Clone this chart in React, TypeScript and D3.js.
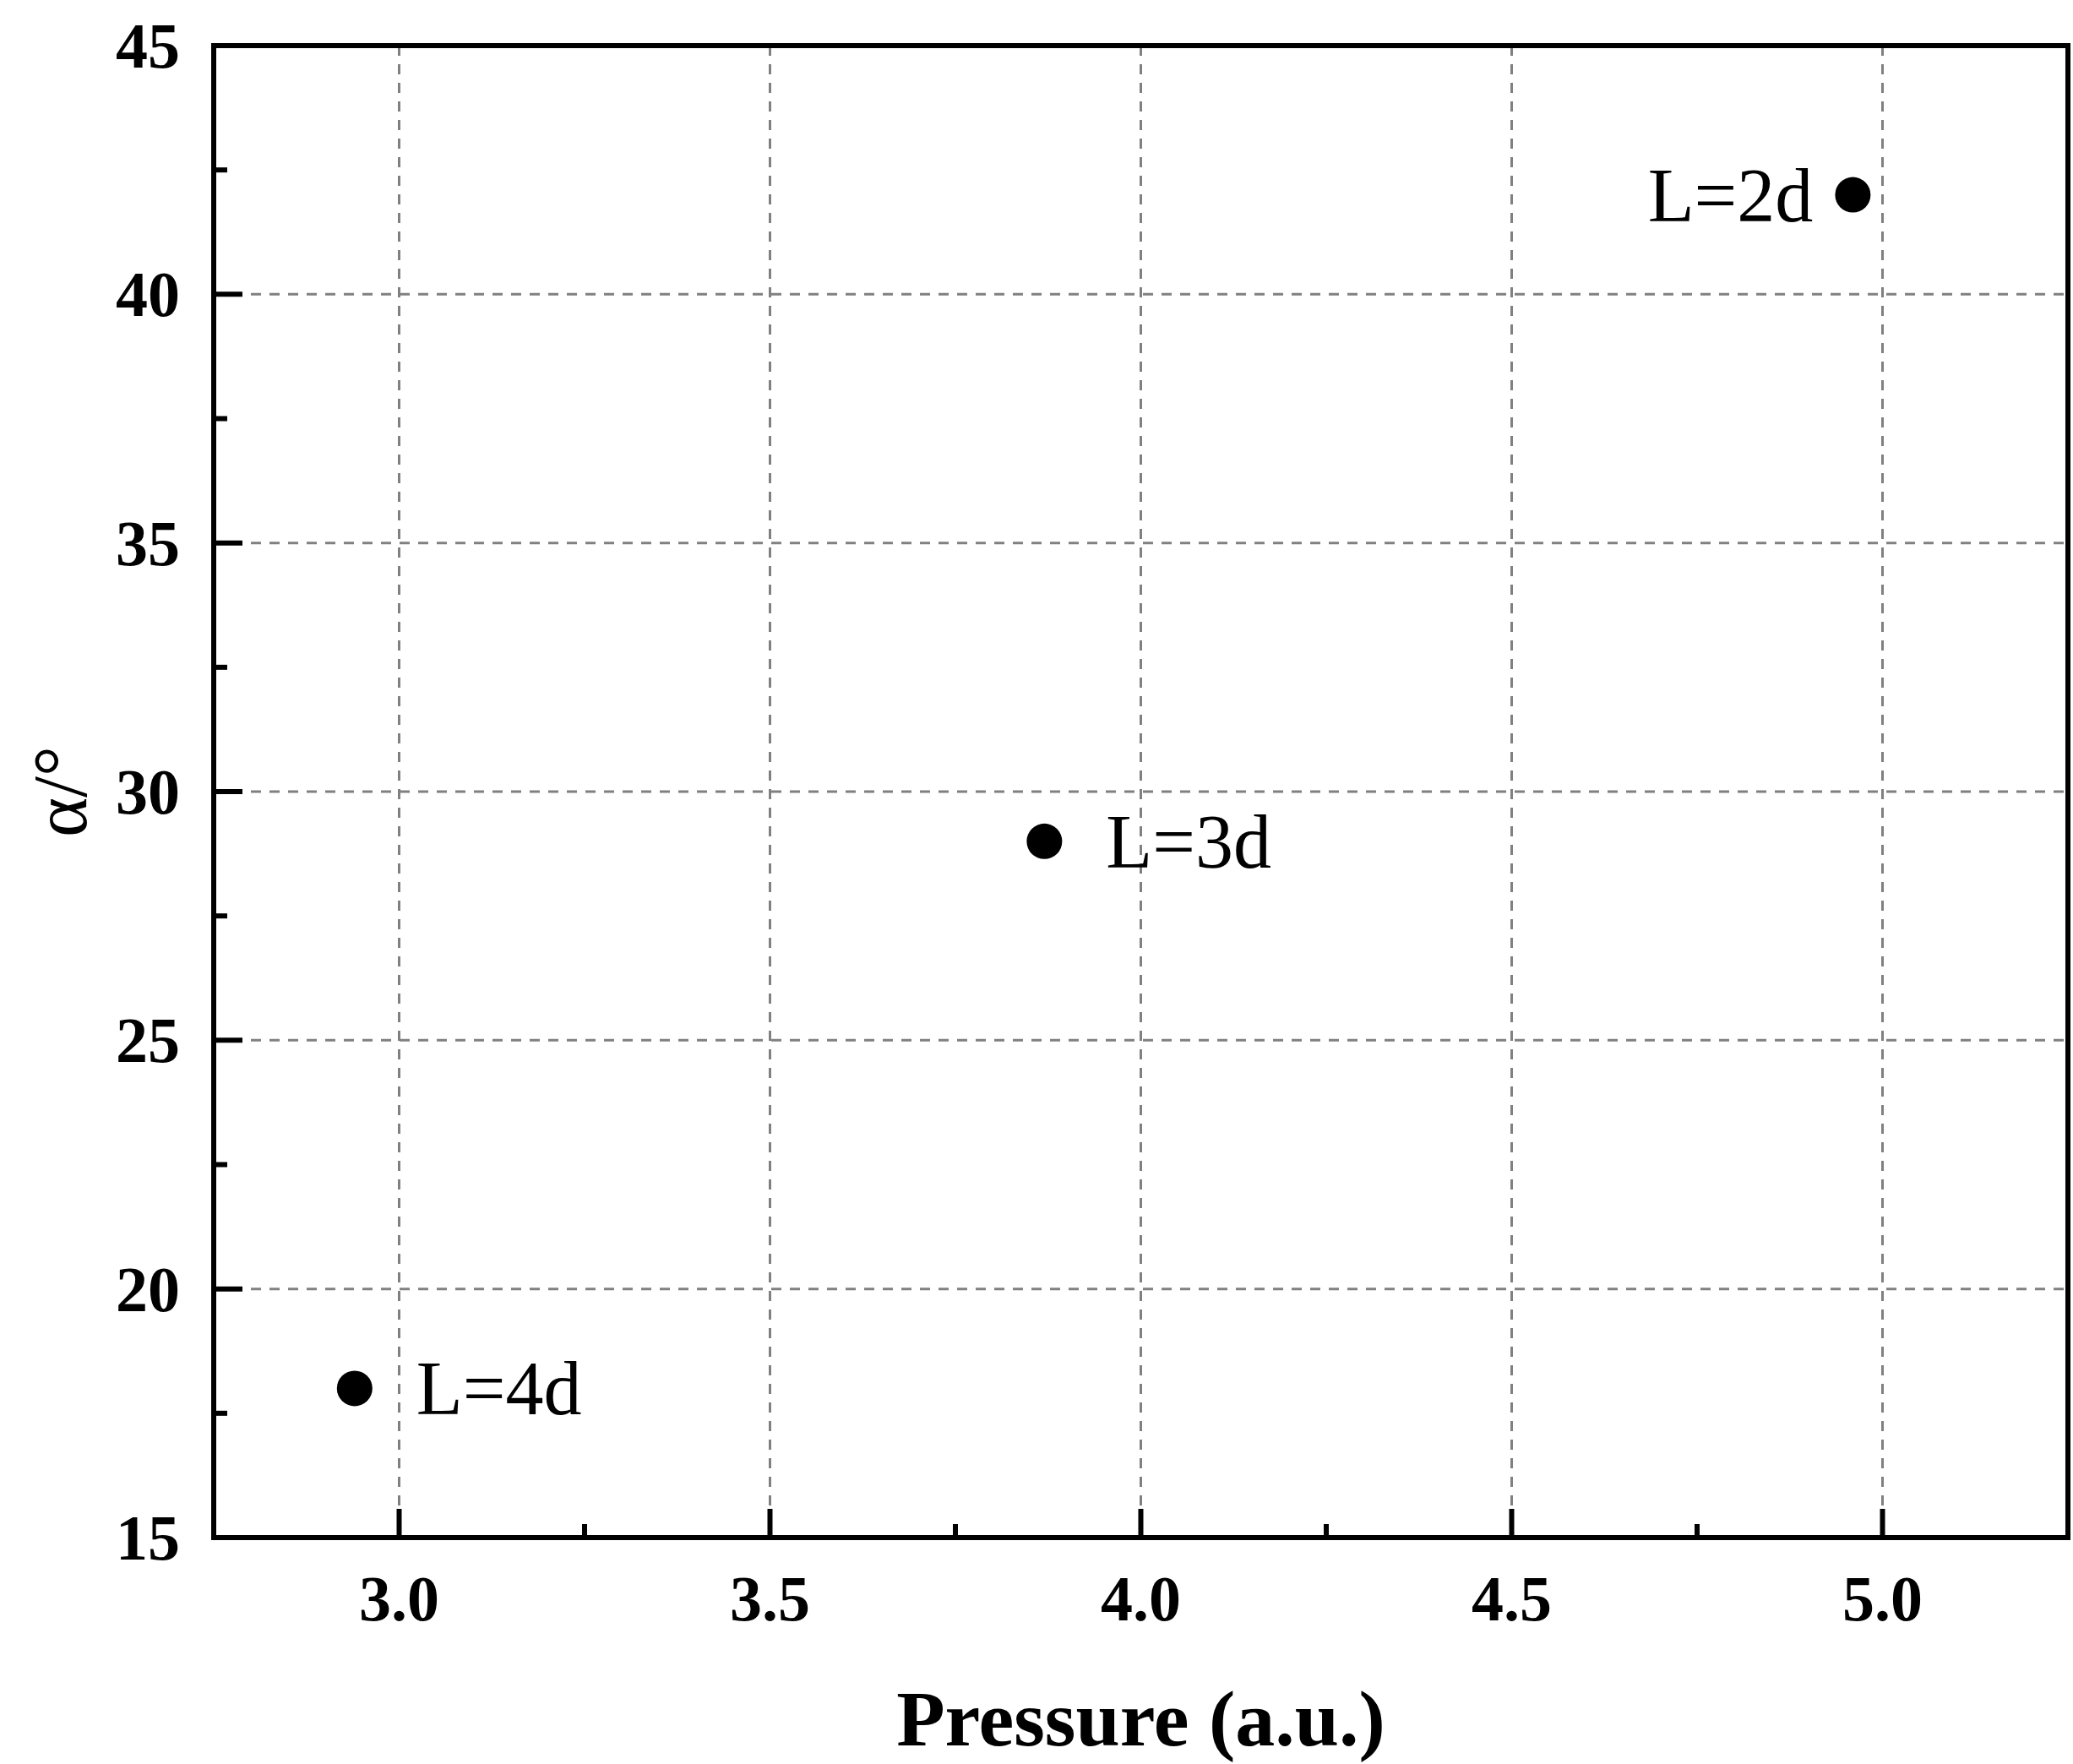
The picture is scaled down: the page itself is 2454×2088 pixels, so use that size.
import React, { useEffect, useRef } from "react";
import * as d3 from "d3";

const labels = ["L=2d", "L=3d", "L=4d"];
const pressure = [4.96, 3.87, 2.94];
const alpha = [42, 29, 18];
const labelSide = ["left", "right", "right"];
const xTicks = [3.0, 3.5, 4.0, 4.5, 5.0];
const xMinor = [3.25, 3.75, 4.25, 4.75];
const yTicks = [15, 20, 25, 30, 35, 40, 45];
const yMinor = [17.5, 22.5, 27.5, 32.5, 37.5, 42.5];

const App: React.FC = () => {
  const ref = useRef<SVGSVGElement>(null);

  useEffect(() => {
    const svg = d3.select(ref.current);
    svg.selectAll("*").remove();

    const width = 2454;
    const height = 2088;
    const margin = { top: 54, right: 6, bottom: 268, left: 253 };
    const serif = "'Liberation Serif', 'Times New Roman', serif";

    const x = d3
      .scaleLinear()
      .domain([2.75, 5.25])
      .range([margin.left, width - margin.right]);

    const y = d3
      .scaleLinear()
      .domain([15, 45])
      .range([height - margin.bottom, margin.top]);

    const [x0, x1] = x.range();
    const [y0, y1] = y.range();

    svg.attr("width", width).attr("height", height);

    // grid
    const grid = svg
      .append("g")
      .attr("stroke", "#808080")
      .attr("stroke-width", 3)
      .attr("stroke-dasharray", "12,10");

    grid
      .selectAll("line.gx")
      .data(xTicks)
      .join("line")
      .attr("class", "gx")
      .attr("x1", (d) => x(d))
      .attr("x2", (d) => x(d))
      .attr("y1", y1)
      .attr("y2", y0);

    grid
      .selectAll("line.gy")
      .data(yTicks.filter((d) => d > 15 && d < 45))
      .join("line")
      .attr("class", "gy")
      .attr("x1", x0)
      .attr("x2", x1)
      .attr("y1", (d) => y(d))
      .attr("y2", (d) => y(d));

    // ticks (inward)
    const ticks = svg.append("g").attr("stroke", "black").attr("stroke-width", 6);

    ticks
      .selectAll("line.tx")
      .data([...xTicks.map((v) => ({ v, len: 34 })), ...xMinor.map((v) => ({ v, len: 16 }))])
      .join("line")
      .attr("class", "tx")
      .attr("x1", (d) => x(d.v))
      .attr("x2", (d) => x(d.v))
      .attr("y1", y0)
      .attr("y2", (d) => y0 - d.len);

    ticks
      .selectAll("line.ty")
      .data([...yTicks.map((v) => ({ v, len: 34 })), ...yMinor.map((v) => ({ v, len: 16 }))])
      .join("line")
      .attr("class", "ty")
      .attr("x1", x0)
      .attr("x2", (d) => x0 + d.len)
      .attr("y1", (d) => y(d.v))
      .attr("y2", (d) => y(d.v));

    // frame
    svg
      .append("rect")
      .attr("x", x0)
      .attr("y", y1)
      .attr("width", x1 - x0)
      .attr("height", y0 - y1)
      .attr("fill", "none")
      .attr("stroke", "black")
      .attr("stroke-width", 6);

    // tick labels
    svg
      .append("g")
      .selectAll("text")
      .data(xTicks)
      .join("text")
      .attr("x", (d) => x(d))
      .attr("y", y0 + 98)
      .attr("text-anchor", "middle")
      .attr("font-family", serif)
      .attr("font-weight", "bold")
      .attr("font-size", 76)
      .text((d) => d.toFixed(1));

    svg
      .append("g")
      .selectAll("text")
      .data(yTicks)
      .join("text")
      .attr("x", x0 - 40)
      .attr("y", (d) => y(d) + 26)
      .attr("text-anchor", "end")
      .attr("font-family", serif)
      .attr("font-weight", "bold")
      .attr("font-size", 76)
      .text((d) => d);

    // axis titles
    svg
      .append("text")
      .attr("x", (x0 + x1) / 2)
      .attr("y", 2066)
      .attr("text-anchor", "middle")
      .attr("font-family", serif)
      .attr("font-weight", "bold")
      .attr("font-size", 94)
      .text("Pressure (a.u.)");

    svg
      .append("text")
      .attr("transform", `translate(102,${(y0 + y1) / 2}) rotate(-90)`)
      .attr("text-anchor", "middle")
      .attr("font-family", serif)
      .attr("font-size", 90)
      .text("α/°");

    // points
    const pts = labels.map((l, i) => ({
      label: l,
      px: pressure[i],
      a: alpha[i],
      side: labelSide[i],
    }));

    svg
      .append("g")
      .selectAll("circle")
      .data(pts)
      .join("circle")
      .attr("cx", (d) => x(d.px))
      .attr("cy", (d) => y(d.a))
      .attr("r", 21)
      .attr("fill", "black");

    svg
      .append("g")
      .selectAll("text")
      .data(pts)
      .join("text")
      .attr("x", (d) => x(d.px) + (d.side === "left" ? -47 : 73))
      .attr("y", (d) => y(d.a) + 31)
      .attr("text-anchor", (d) => (d.side === "left" ? "end" : "start"))
      .attr("font-family", serif)
      .attr("font-size", 90)
      .text((d) => d.label);
  }, []);

  return (
    <svg
      ref={ref}
      style={{ position: "absolute", left: 0, top: 0, display: "block" }}
    ></svg>
  );
};

export default App;
